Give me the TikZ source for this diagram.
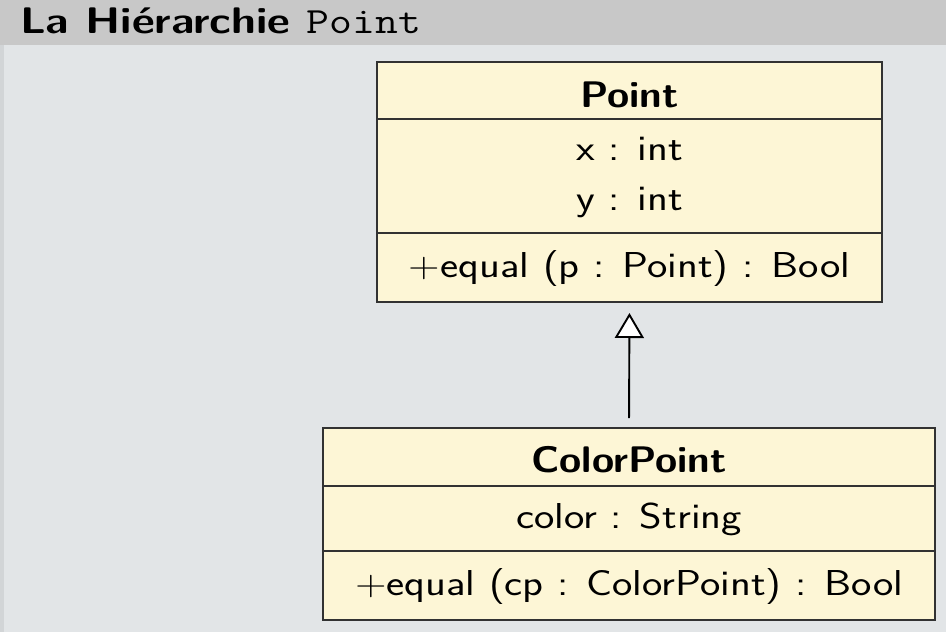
\documentclass[tikz,border=0pt]{standalone}
\usepackage{graphicx}
\usetikzlibrary{arrows.meta}
\definecolor{bgc}{RGB}{226,229,231}
\definecolor{titlec}{RGB}{200,200,200}
\definecolor{boxc}{RGB}{253,246,214}
\definecolor{linec}{RGB}{50,50,50}
\newcommand{\wtxt}[1]{\scalebox{1.2}[1]{#1}}
\newcommand{\wbtxt}[1]{\scalebox{1.09}[1]{#1}}
\begin{document}
\begin{tikzpicture}[x=1pt,y=-1pt,
  txt/.style={font=\sffamily\fontsize{36}{40}\selectfont, inner sep=0pt, anchor=base, text=black},
  btxt/.style={font=\sffamily\bfseries\fontsize{37}{40}\selectfont, inner sep=0pt, anchor=base, text=black},
  comp/.style={draw=linec, line width=1.3pt, fill=boxc, anchor=north west, inner sep=0pt, outer sep=0pt}]
\useasboundingbox (0,0) rectangle (946,632);
\fill[bgc] (0,0) rectangle (946,632);
\fill[titlec] (0,0) rectangle (946,45);
\fill[bgc!93!black] (0,45) rectangle (4,632);
\node[anchor=base west, inner sep=0pt, font=\sffamily\bfseries\fontsize{37}{40}\selectfont] (title) at (20,33) {\scalebox{1.2}[1]{La Hiérarchie \texttt{\mdseries Point}}};
% Point class
\node[comp, minimum width=505pt, minimum height=57pt] (Pn) at (377,62) {};
\node[comp, minimum width=505pt, minimum height=114pt] (Pa) at (377,119) {};
\node[comp, minimum width=505pt, minimum height=69pt] (Po) at (377,233) {};
\node[btxt] (t1) at (629.5,107) {\wbtxt{Point}};
\node[txt] (t2) at (629.5,160) {\wtxt{x : int}};
\node[txt] (t3) at (629.5,210) {\wtxt{y : int}};
\node[txt] (t4) at (629.5,277) {\wtxt{+equal (p : Point) : Bool}};
% ColorPoint class
\node[comp, minimum width=612pt, minimum height=58pt] (Cn) at (323,428) {};
\node[comp, minimum width=612pt, minimum height=65pt] (Ca) at (323,486) {};
\node[comp, minimum width=612pt, minimum height=69pt] (Co) at (323,551) {};
\node[btxt] (c1) at (629,472) {\wbtxt{ColorPoint}};
\node[txt] (c2) at (629,528) {\wtxt{color : String}};
\node[txt] (c3) at (629,595) {\wtxt{+equal (cp : ColorPoint) : Bool}};
% inheritance
\draw[line width=1.9pt, black, shorten >=11pt, shorten <=10pt,
  -{Triangle[open, length=25pt, width=29pt, fill=white, line width=1.9pt]}]
  (Cn.north) -- (Po.south);
\end{tikzpicture}
\end{document}
